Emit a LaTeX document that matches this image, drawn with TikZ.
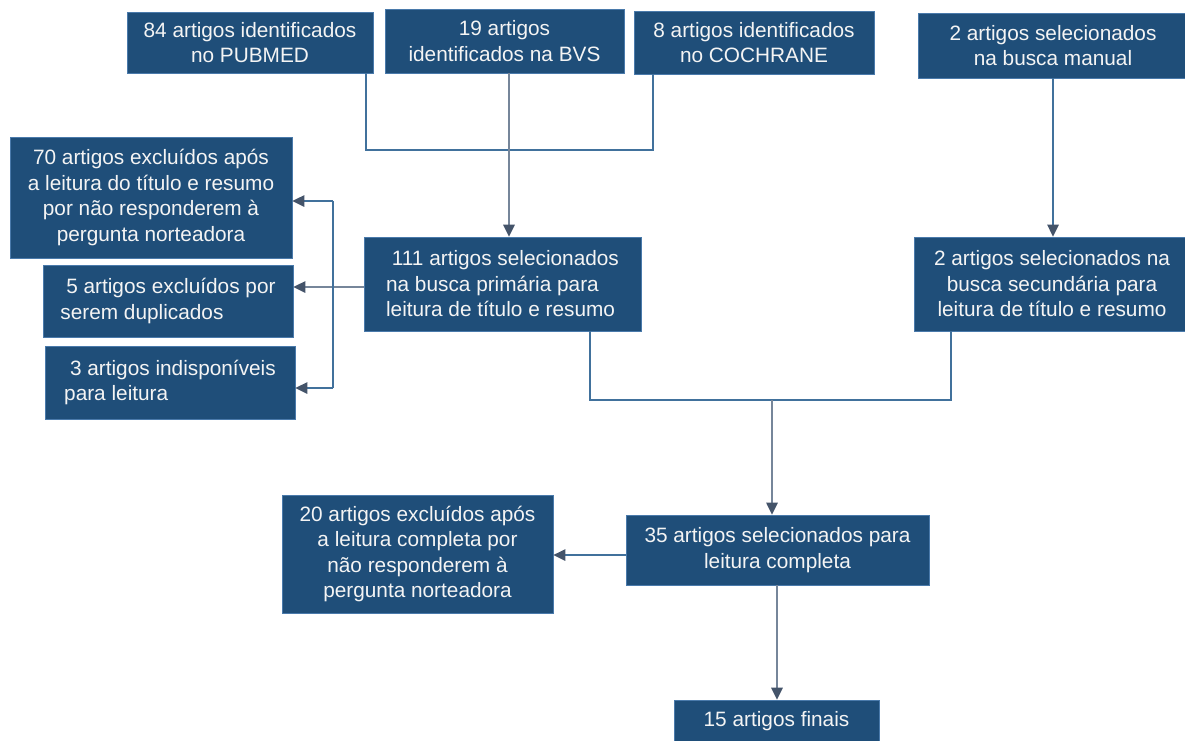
\documentclass[tikz,border=0pt]{standalone}
\usepackage{fontspec}
\setmainfont{Liberation Sans}
\usetikzlibrary{arrows.meta}
\definecolor{boxfill}{HTML}{1F4E79}
\definecolor{boxline}{HTML}{4A7AAB}
\definecolor{treec}{HTML}{41719C}
\definecolor{arrc}{HTML}{76869A}
\definecolor{headc}{HTML}{44546A}
\definecolor{txtc}{HTML}{F4F4F4}
\tikzset{
  box/.style={rectangle, fill=boxfill, draw=boxline, line width=0.8pt, inner sep=0pt,
    text=txtc, align=center, font=\fontsize{20.8}{25.5}\selectfont},
  lbox/.style={box, align=left},
  tree/.style={draw=treec, line width=1.5pt},
  arr/.style={draw=arrc, line width=1.5pt, -{Triangle[width=11.5pt,length=12pt,color=headc]}},
  tarr/.style={draw=treec, line width=1.5pt, -{Triangle[width=11.5pt,length=12pt,color=headc]}}
}
\begin{document}
\begin{tikzpicture}[x=1pt,y=-1pt]
\useasboundingbox (0,0) rectangle (1185,740);
\clip (0,0) rectangle (1185,740);
\fill[white] (0,0) rectangle (1185,740);

% top row
\node[box, minimum width=246pt, minimum height=61pt] (pub) at (250,42.5) {84 artigos identificados\\no PUBMED};
\node[box, minimum width=239pt, minimum height=64pt] (bvs) at (504.5,41) {19 artigos\\identificados na BVS};
\node[box, minimum width=240pt, minimum height=63pt] (coch) at (754,42.5) {8 artigos identificados\\no COCHRANE};
\node[box, minimum width=270pt, minimum height=65pt] (man) at (1053,45.5) {2 artigos selecionados\\na busca manual};

% left exclusions
\node[box, minimum width=282pt, minimum height=121pt] (ex70) at (151,197.5) {70 artigos excluídos após\\a leitura do título e resumo\\por não responderem à\\pergunta norteadora};
\node[lbox, minimum width=250pt, minimum height=72pt] (ex5) at (168,301) {\hspace*{0.28em}5 artigos excluídos por\\serem duplicados};
\node[lbox, minimum width=250pt, minimum height=73pt] (ex3) at (170,382.5) {\hspace*{0.28em}3 artigos indisponíveis\\para leitura};

% middle row
\node[lbox, minimum width=277pt, minimum height=94pt] (p111) at (502.5,284) {\hspace*{0.28em}111 artigos selecionados\\na busca primária para\\leitura de título e resumo};
\node[box, minimum width=276pt, minimum height=94pt] (s2) at (1052,284) {2 artigos selecionados na\\busca secundária para\\leitura de título e resumo};

% lower
\node[box, minimum width=271pt, minimum height=118pt] (ex20) at (417.5,554) {20 artigos excluídos após\\a leitura completa por\\não responderem à\\pergunta norteadora};
\node[box, minimum width=303pt, minimum height=70pt] (s35) at (777.5,550) {35 artigos selecionados para\\leitura completa};
\node[box, minimum width=205pt, minimum height=42pt] (fin) at (776.5,721) {15 artigos finais};

% connectors top
\coordinate (pubj) at (366,150);
\coordinate (cochj) at (653,150);
\draw[tree] (pub.south -| pubj) -- (pubj) -- (cochj) -- (coch.south -| cochj);
\coordinate (bvsx) at (509,150);
\draw[arr] (bvs.south -| bvsx) -- (p111.north -| bvsx);
\draw[tarr] (man.south) -- (man.south |- s2.north);

% left bracket
\coordinate (bt) at (333,201);
\coordinate (bm) at (333,287);
\coordinate (bb) at (333,388);
\draw[arr] (p111.west |- bm) -- (ex5.east |- bm);
\draw[tree] (bt) -- (bb);
\draw[tarr] (bt) -- (ex70.east |- bt);
\draw[tarr] (bb) -- (ex3.east |- bb);

% middle join
\coordinate (pj) at (590,400);
\coordinate (sj) at (951,400);
\coordinate (mj) at (772,400);
\draw[tree] (p111.south -| pj) -- (pj) -- (sj) -- (s2.south -| sj);
\draw[arr] (mj) -- (s35.north -| mj);

% lower connectors
\coordinate (ly) at (700,555);
\draw[tarr] (s35.west |- ly) -- (ex20.east |- ly);
\coordinate (fx) at (777,650);
\draw[arr] (s35.south -| fx) -- (fin.north -| fx);
\end{tikzpicture}
\end{document}
